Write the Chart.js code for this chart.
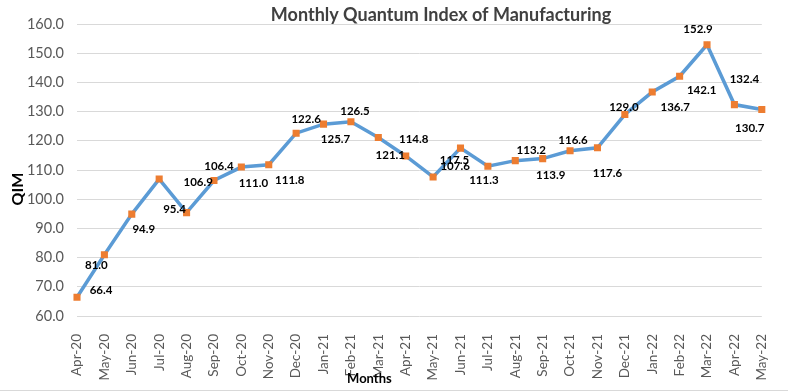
<!DOCTYPE html>
<html>
<head>
<meta charset="utf-8">
<script src="https://cdn.jsdelivr.net/npm/chart.js@4.4.1/dist/chart.umd.min.js"></script>
<style>
  html, body { margin: 0; padding: 0; background: #ffffff; }
  #wrap { position: relative; width: 788px; height: 391px; }
</style>
</head>
<body>
<div id="wrap"><canvas id="c"></canvas></div>
<script>
// ---- Data ----
const months = ["Apr-20","May-20","Jun-20","Jul-20","Aug-20","Sep-20","Oct-20","Nov-20","Dec-20",
  "Jan-21","Feb-21","Mar-21","Apr-21","May-21","Jun-21","Jul-21","Aug-21","Sep-21","Oct-21","Nov-21","Dec-21",
  "Jan-22","Feb-22","Mar-22","Apr-22","May-22"];
const qimValues = [66.4, 81.0, 94.9, 106.9, 95.4, 106.4, 111.0, 111.8, 122.6,
  125.7, 126.5, 121.1, 114.8, 107.6, 117.5, 111.3, 113.2, 113.9, 116.6, 117.6, 129.0,
  136.7, 142.1, 152.9, 132.4, 130.7];
const yTickMin = 60, yTickMax = 160, yTickStep = 10;

// ---- Style: data label offsets (px, relative to each point) ----
const labelDx = [24, -8, 12, 39, -12, 5, 12, 21, 10, 12, 4, 12, 8, 22, -6, -4, 16, 8, 3, 10, -1, 23, 22, -9, 10, -12];
const labelDy = [-7, 11, 15, 3, -3, -14, 16, 16, -14, 15, -11, 18, -17, -11, 12, 14, -10, 17, -10, 25, -7, 15, 14, -15, -25, 19];

const FONT = "Lato, 'Open Sans', 'Liberation Sans', sans-serif";

const decorPlugin = {
  id: 'decor',
  afterDatasetsDraw(chart) {
    const ctx = chart.ctx;
    const meta = chart.getDatasetMeta(0);
    ctx.save();
    ctx.font = "bold 11.5px " + FONT;
    ctx.fillStyle = "#000000";
    ctx.textAlign = "center";
    ctx.textBaseline = "middle";
    meta.data.forEach((pt, i) => {
      ctx.fillText(qimValues[i].toFixed(1), pt.x + labelDx[i], pt.y + labelDy[i]);
    });
    ctx.restore();
  },
  afterDraw(chart) {
    const ctx = chart.ctx;
    const a = chart.chartArea;
    ctx.save();
    // Title
    ctx.font = "bold 18px " + FONT;
    ctx.fillStyle = "#404040";
    ctx.textAlign = "center";
    ctx.textBaseline = "middle";
    ctx.fillText("Monthly Quantum Index of Manufacturing", 441, 15);
    // X axis title
    ctx.font = "bold 13px " + FONT;
    ctx.fillStyle = "#000000";
    ctx.fillText("Months", a.left + (a.right - a.left) * 0.427, 379);
    // Y axis title
    ctx.save();
    ctx.translate(18, 189);
    ctx.rotate(-Math.PI / 2);
    ctx.font = "bold 16px " + FONT;
    ctx.fillText("QIM", 0, 0);
    ctx.restore();
    // bottom border line
    ctx.strokeStyle = "#D9D9D9";
    ctx.lineWidth = 1;
    ctx.beginPath();
    ctx.moveTo(0, 390.5);
    ctx.lineTo(chart.width, 390.5);
    ctx.stroke();
    ctx.restore();
  }
};

new Chart(document.getElementById('c'), {
  type: 'line',
  data: {
    labels: months,
    datasets: [{
      data: qimValues,
      borderColor: '#5B9BD5',
      borderWidth: 3.5,
      tension: 0,
      pointStyle: 'rect',
      pointRadius: 5,
      pointHoverRadius: 5,
      pointBackgroundColor: '#ED7D31',
      pointBorderColor: '#ED7D31',
      pointBorderWidth: 0,
      fill: false
    }]
  },
  options: {
    responsive: true,
    maintainAspectRatio: false,
    animation: false,
    layout: { padding: { left: 0, right: 8, top: 24, bottom: 0 } },
    plugins: {
      legend: { display: false },
      title: { display: false },
      tooltip: { enabled: false }
    },
    scales: {
      x: {
        offset: false,
        grid: { display: false },
        border: { display: false },
        ticks: {
          autoSkip: false,
          maxRotation: 90,
          minRotation: 90,
          padding: 10,
          color: '#595959',
          font: { family: FONT, size: 13.5 }
        },
        afterFit(scale) { scale.height = 75; }
      },
      y: {
        min: yTickMin,
        max: yTickMax,
        grid: { color: '#D9D9D9', drawTicks: false },
        border: { display: false },
        ticks: {
          stepSize: yTickStep,
          padding: 13,
          color: '#595959',
          font: { family: FONT, size: 14.5 },
          callback: v => Number(v).toFixed(1)
        },
        afterFit(scale) { scale.width = 77; }
      }
    }
  },
  plugins: [decorPlugin]
});
</script>
</body>
</html>
